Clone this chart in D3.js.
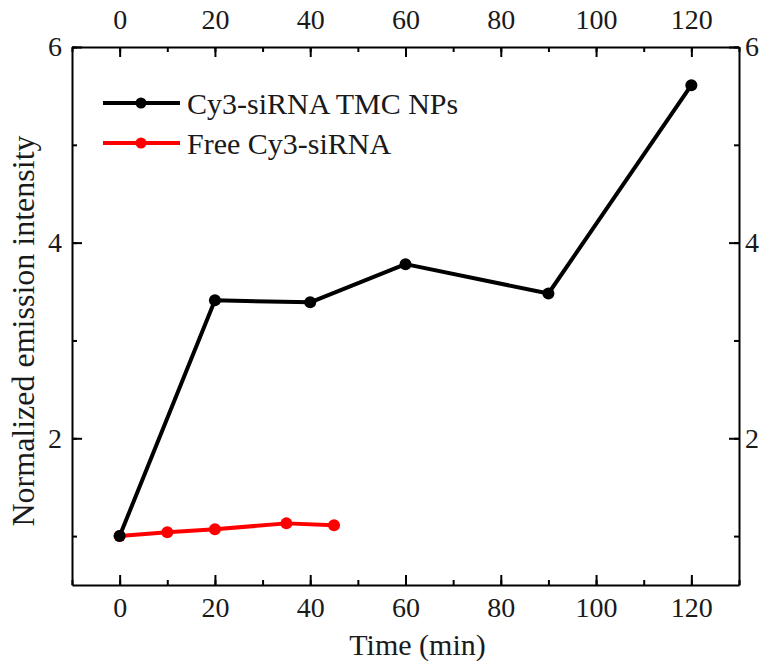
<!DOCTYPE html>
<html><head><meta charset="utf-8">
<script src="https://cdn.jsdelivr.net/npm/d3@7"></script>
<style>body{margin:0;background:#fff}svg{display:block}text{font-family:"Liberation Serif","DejaVu Serif",serif;fill:#1a1a1a}</style>
</head><body>
<script>
const seriesNames = ["Cy3-siRNA TMC NPs", "Free Cy3-siRNA"];
const seriesColors = ["#000000", "#ff0000"];
const npTime = [0, 20, 40, 60, 90, 120];
const npValue = [1.0, 3.41, 3.39, 3.78, 3.48, 5.61];
const freeTime = [0, 10, 20, 35, 45];
const freeValue = [1.0, 1.04, 1.07, 1.13, 1.11];
const xTicks = [0, 20, 40, 60, 80, 100, 120];
const yTicks = [2, 4, 6];
const xMinor = [-10,0,10,20,30,40,50,60,70,80,90,100,110,120,130];
const yMinor = [1,2,3,4,5,6];

const W = 766, H = 663;
const m = {l: 72, r: 27, t: 47, b: 78};
const svg = d3.select("body").append("svg").attr("width", W).attr("height", H);
const x = d3.scaleLinear().domain([-10, 130]).range([m.l, W - m.r]);
const y = d3.scaleLinear().domain([0.5, 6]).range([H - m.b, m.t]);

function axis(gen, tr, ticks, minor, pad) {
  const gMinor = svg.append("g").attr("transform", tr)
    .call(gen.tickValues(minor).tickSizeInner(-5).tickSizeOuter(0).tickFormat(""));
  gMinor.select(".domain").remove();
  gMinor.selectAll("line").attr("stroke", "#000").attr("stroke-width", 2);
  const g = svg.append("g").attr("transform", tr)
    .call(gen.tickValues(ticks).tickSizeInner(-10).tickSizeOuter(0).tickPadding(pad).tickFormat(d3.format("d")));
  g.select(".domain").attr("stroke", "#000").attr("stroke-width", 2);
  g.selectAll("line").attr("stroke", "#000").attr("stroke-width", 2);
  g.selectAll("text").style("font-size", "28px").style("font-family", '"Liberation Serif", serif').attr("fill", "#1a1a1a");
  return g;
}
const gB = axis(d3.axisBottom(x), `translate(0,${H - m.b})`, xTicks, xMinor, 10);
gB.selectAll("text").attr("dy", "0.8em");
const gT = axis(d3.axisTop(x), `translate(0,${m.t})`, xTicks, xMinor, 18);
const gL = axis(d3.axisLeft(y), `translate(${m.l},0)`, yTicks, yMinor, 10);
const gR = axis(d3.axisRight(y), `translate(${W - m.r},0)`, yTicks, yMinor, 6);

const line = d3.line().x(d => x(d[0])).y(d => y(d[1]));
const data = [d3.zip(npTime, npValue), d3.zip(freeTime, freeValue)];
[1, 0].forEach(i => {
  svg.append("path").datum(data[i]).attr("d", line).attr("fill", "none")
    .attr("stroke", seriesColors[i]).attr("stroke-width", 4).attr("stroke-linejoin", "round");
  svg.selectAll(null).data(data[i]).enter().append("circle")
    .attr("cx", d => x(d[0])).attr("cy", d => y(d[1])).attr("r", 6).attr("fill", seriesColors[i]);
});

// legend
seriesNames.forEach((n, i) => {
  const ly = 103 + i * 40;
  svg.append("line").attr("x1", 103).attr("x2", 180).attr("y1", ly).attr("y2", ly)
    .attr("stroke", seriesColors[i]).attr("stroke-width", 4);
  svg.append("circle").attr("cx", 141).attr("cy", ly).attr("r", 5.5).attr("fill", seriesColors[i]);
  svg.append("text").attr("x", 187).attr("y", ly).attr("dy", "0.35em").style("font-size", "30px").text(n);
});

svg.append("text").attr("x", (m.l + W - m.r) / 2 + 12).attr("y", 655).attr("text-anchor", "middle")
  .style("font-size", "30px").text("Time (min)");
svg.append("text").attr("transform", `translate(34,${(m.t + H - m.b) / 2 + 15}) rotate(-90)`).attr("text-anchor", "middle")
  .style("font-size", "32px").text("Normalized emission intensity");
</script>
</body></html>
